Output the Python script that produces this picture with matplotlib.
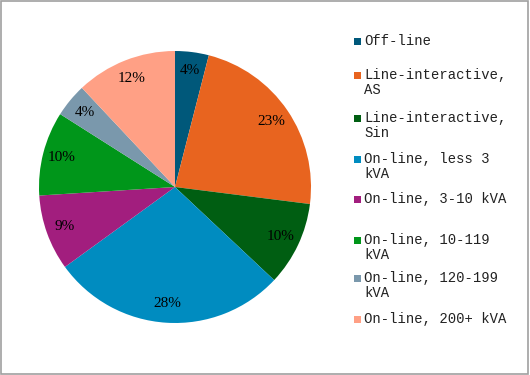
import matplotlib.pyplot as plt
from matplotlib.patches import Rectangle

# UPS market share by type
labels = ['Off-line', 'Line-interactive,\nAS', 'Line-interactive,\nSin',
          'On-line, less 3\nkVA', 'On-line, 3-10 kVA', 'On-line, 10-119\nkVA',
          'On-line, 120-199\nkVA', 'On-line, 200+ kVA']
shares = [4, 23, 10, 28, 9, 10, 4, 12]
colors = ['#00587A', '#E8641F', '#005E12', '#008CC0',
          '#A21E7E', '#00961A', '#7A98AC', '#FFA085']

fig = plt.figure(figsize=(5.3, 3.75), dpi=100)
fig.patch.set_facecolor('white')

# pie: centre ~ (175,187) px, radius ~136 px
ax = fig.add_axes([(175 - 136) / 530, (375 - 187 - 136) / 375, 272 / 530, 272 / 375])
wedges, texts, autotexts = ax.pie(shares, colors=colors, startangle=90, counterclock=False,
                                  autopct='%d%%', pctdistance=0.86,
                                  textprops={'family': 'Liberation Serif', 'fontsize': 11})
ax.set_xlim(-1, 1)
ax.set_ylim(-1, 1)
ax.set_aspect('equal')

# legend drawn by hand so the entries sit like the original
ypos = [41, 75, 118, 159, 199, 240, 278, 319]
for lab, col, y in zip(labels, colors, ypos):
    fig.patches.append(Rectangle((354 / 530, 1 - (y + 4) / 375), 7 / 530, 7 / 375,
                                 transform=fig.transFigure, facecolor=col, edgecolor='none'))
    fig.text(364 / 530, 1 - (y - 7) / 375, lab, family='Liberation Mono', fontsize=10,
             va='top', ha='left', color='#222222', linespacing=1.1)

# grey frame round the whole chart
fig.patches.append(Rectangle((0.002, 0.003), 0.995, 0.994, transform=fig.transFigure,
                             fill=False, edgecolor='#A0A0A0', linewidth=1.2))

plt.savefig('out.png', dpi=100)
